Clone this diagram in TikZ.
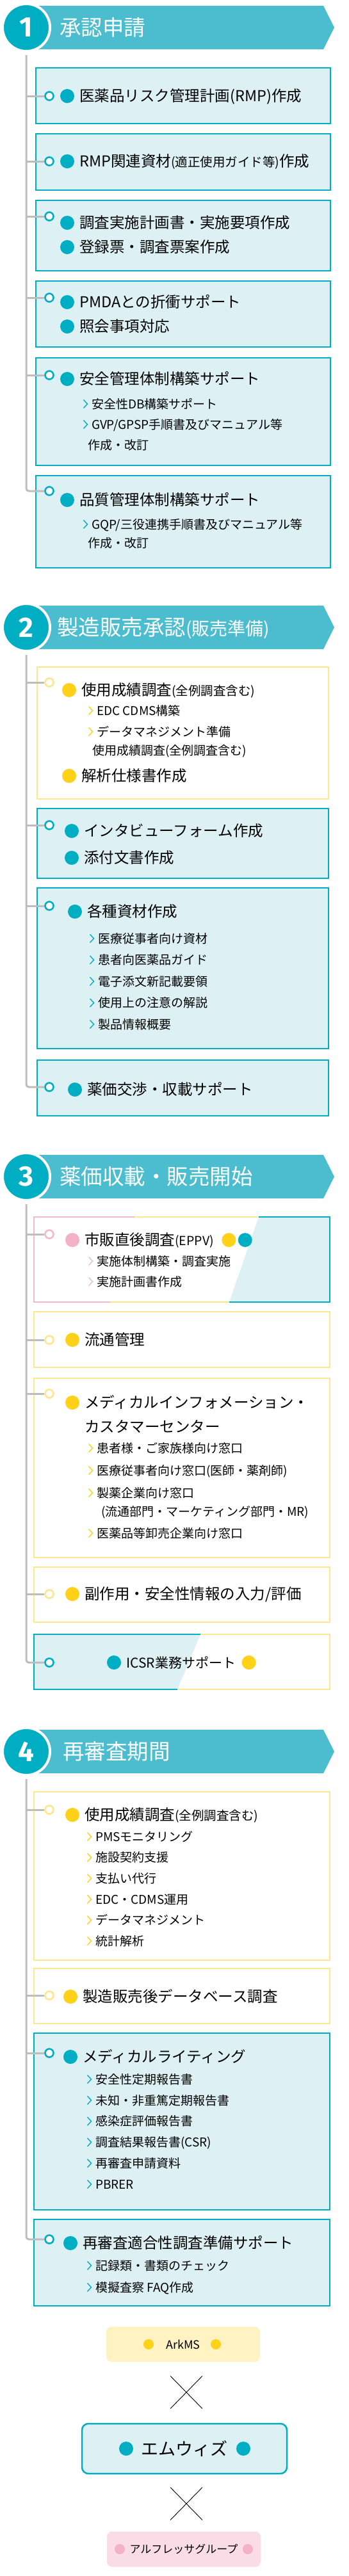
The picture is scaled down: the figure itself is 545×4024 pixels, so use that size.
\documentclass[tikz,border=0pt]{standalone}
\usepackage{fontspec}
\setmainfont{Noto Sans CJK JP}
\newfontfamily\numfont{Fira Sans}
\usetikzlibrary{positioning,shapes.misc}

\definecolor{tealc}{HTML}{00AEC3}
\definecolor{bannerc}{HTML}{4BBDCE}
\definecolor{tealbg}{HTML}{DDF0F4}
\definecolor{yline}{HTML}{FFE68F}
\definecolor{yelc}{HTML}{FFD219}
\definecolor{pinkline}{HTML}{F5B9CD}
\definecolor{pinkc}{HTML}{F2B1C6}
\definecolor{arkbg}{HTML}{FFF3C4}
\definecolor{alfbg}{HTML}{FADCE7}
\definecolor{trunkc}{HTML}{BDBDBD}

\newcommand\itemfont{\fontsize{23.5pt}{28pt}\selectfont}
\newcommand\subfont{\fontsize{19pt}{23pt}\selectfont}
\newcommand\parfont{\fontsize{19.5pt}{23pt}\selectfont}
\newcommand\titlefont{\fontsize{33.5pt}{40pt}\selectfont}
\newcommand\titlesmall{\fontsize{28pt}{34pt}\selectfont}

\begin{document}
\begin{tikzpicture}[x=1pt, y=-1pt,
    stepnum/.style={circle, fill=tealc, draw=white, line width=4pt, minimum size=74pt, inner sep=0pt,
      text=white, font={\numfont\bfseries\fontsize{44pt}{44pt}\selectfont}},
    steptitle/.style={anchor=west, inner sep=0pt, text=white, font=\titlefont, text height=27.8pt, text depth=2.3pt},
    trunk/.style={draw=trunkc, line width=3pt, rounded corners=4pt},
    rim/.style={line width=2.2pt},
    tbox/.style={draw=tealc, fill=tealbg, rim},
    ybox/.style={draw=yline, fill=white, rim},
    ring/.style={circle, draw=#1, fill=white, line width=2.6pt, minimum size=13pt, inner sep=0pt},
    bul/.style={circle, fill=#1, minimum size=22pt, inner sep=0pt},
    itemtext/.style={anchor=west, inner sep=0pt, font=\itemfont, text height=19.5pt, text depth=1.6pt},
    subtext/.style={anchor=west, inner sep=0pt, font=\subfont, text height=15.8pt, text depth=1.3pt},
    chev/.pic={\draw[line width=1.4pt] (-3.5,-6.5) -- (2.5,0) -- (-3.5,6.5);},
    orgbox/.style={rounded corners=8pt, inner sep=0pt, minimum width=240pt, minimum height=55pt},
    ]
    \path[use as bounding box, fill=white] (0,0) rectangle (545,4024);

    % step headers
    \foreach \n/\yc/\tx/\t in {1/43/93/{承認申請}, 2/980/89/{製造販売承認{\titlesmall(販売準備)}},
        3/1838/93/{薬価収載・販売開始}, 4/2736/98/{再審査期間}} {
      \fill[bannerc] (40,\yc-34) -- (505,\yc-34) -- (522,\yc) -- (505,\yc+34) -- (40,\yc+34) -- cycle;
      \node[stepnum] (h\n) at (41,\yc) {\n};
      \node[steptitle] (ttl\n) at (\tx,\yc) {\t};
    }

    % 1 承認申請
    \foreach \t/\b/\r [count=\i] in {106/193/150, 209/297/252, 313/423/338, 439/542/465, 559/727/586, 743/887/767} {
      \draw[tbox] (56,\t) rectangle (516,\b);
      \node[ring=tealc] (r1-\i) at (77,\r) {};
    }
    \draw[trunk] ([yshift=-4pt]h1.south) |- (r1-6);
    \foreach \i in {1,...,5} \draw[trunk] (h1 |- r1-\i) -- (r1-\i);
    \foreach \y/\t [count=\i] in {150/{医薬品リスク管理計画(RMP)作成}, 252/{RMP関連資材{\parfont(適正使用ガイド等)}作成},
        348/{調査実施計画書・実施要項作成}, 386/{登録票・調査票案作成}, 472/{PMDAとの折衝サポート},
        510/{照会事項対応}, 592/{安全管理体制構築サポート}, 781/{品質管理体制構築サポート}} {
      \node[bul=tealc] (u1-\i) at (105,\y) {};
      \node[itemtext, right=8pt of u1-\i] (t1-\i) {\t};
    }
    \foreach \y/\t [count=\i] in {631/{安全性DB構築サポート}, 663/{GVP/GPSP手順書及びマニュアル等}, 819/{GQP/三役連携手順書及びマニュアル等}} {
      \node[subtext] (s1-\i) at (143,\y) {\t};
      \pic[color=tealc] at ([xshift=-9pt]s1-\i.west) {chev};
    }
    \node[subtext] (s1-c1) at (137,695) {作成・改訂};
    \node[subtext] (s1-c2) at (137,848) {作成・改訂};

    % 2 製造販売承認
    \foreach \s/\c/\t/\b/\r [count=\i] in {ybox/yline/1042/1248/1066, tbox/tealc/1263/1372/1289,
        tbox/tealc/1387/1638/1415, tbox/tealc/1656/1743/1698} {
      \draw[\s] (58,\t) rectangle (513,\b);
      \node[ring=\c] (r2-\i) at (77,\r) {};
    }
    \draw[trunk] ([yshift=-4pt]h2.south) |- (r2-4);
    \foreach \i in {1,...,3} \draw[trunk] (h2 |- r2-\i) -- (r2-\i);
    \foreach \c/\x/\y/\t [count=\i] in {yelc/108/1078/{使用成績調査{\parfont(全例調査含む)}}, yelc/108/1212/{解析仕様書作成},
        tealc/112/1298/{インタビューフォーム作成}, tealc/112/1340/{添付文書作成},
        tealc/117/1424/{各種資材作成}, tealc/117/1702/{薬価交渉・収載サポート}} {
      \node[bul=\c] (u2-\i) at (\x,\y) {};
      \node[itemtext, right=8pt of u2-\i] (t2-\i) {\t};
    }
    \foreach \c/\x/\y/\t [count=\i] in {yelc/151/1110/{EDC CDMS構築}, yelc/151/1143/{データマネジメント準備},
        tealc/153/1466/{医療従事者向け資材}, tealc/153/1499.5/{患者向医薬品ガイド}, tealc/153/1533/{電子添文新記載要領},
        tealc/153/1566.5/{使用上の注意の解説}, tealc/153/1600/{製品情報概要}} {
      \node[subtext] (s2-\i) at (\x,\y) {\t};
      \pic[color=\c] at ([xshift=-9pt]s2-\i.west) {chev};
    }
    \node[subtext] (s2-c1) at (144,1172) {使用成績調査(全例調査含む)};

    % 3 薬価収載・販売開始
    \fill[tealbg] (404,1901) -- (515,1901) -- (515,2034) -- (358,2034) -- cycle;
    \draw[rim, pinkline] (210,1901) -- (53,1901) -- (53,2034) -- (172,2034);
    \draw[rim, yline] (210,1901) -- (404,1901) (172,2034) -- (358,2034);
    \draw[rim, tealc] (404,1901) -- (515,1901) -- (515,2034) -- (358,2034);
    \draw[ybox] (53,2049) rectangle (515,2136);
    \draw[ybox] (53,2153) rectangle (515,2433);
    \draw[ybox] (53,2448) rectangle (515,2534);
    \fill[tealbg] (53,2553) -- (313,2553) -- (277,2639) -- (53,2639) -- cycle;
    \draw[rim, tealc] (313,2553) -- (53,2553) -- (53,2639) -- (277,2639);
    \draw[rim, yline] (313,2553) -- (515,2553) -- (515,2639) -- (277,2639);
    \foreach \c/\r [count=\i] in {pinkline/1928, yline/2093, yline/2177, yline/2490, tealc/2597}
      \node[ring=\c] (r3-\i) at (77,\r) {};
    \draw[trunk] ([yshift=-4pt]h3.south) |- (r3-5);
    \foreach \i in {1,...,4} \draw[trunk] (h3 |- r3-\i) -- (r3-\i);
    \foreach \c/\y/\t [count=\i] in {pinkc/1937/{市販直後調査{\parfont(EPPV)}}, yelc/2093/{流通管理},
        yelc/2191/{メディカルインフォメーション・}, yelc/2490/{副作用・安全性情報の入力/評価}} {
      \node[bul=\c] (u3-\i) at (113,\y) {};
      \node[itemtext, right=8pt of u3-\i] (t3-\i) {\t};
    }
    \node[bul=yelc, right=12pt of t3-1] (u3-1y) {};
    \node[bul=tealc, right=3pt of u3-1y] (u3-1t) {};
    \node[itemtext] (t3-3b) at (132,2229) {カスタマーセンター};
    \node[bul=tealc] (u3-5) at (178,2597) {};
    \node[itemtext, font=\fontsize{21pt}{25pt}\selectfont, right=8pt of u3-5] (t3-5) {ICSR業務サポート};
    \node[bul=yelc, right=9pt of t3-5] (u3-5y) {};
    \foreach \c/\y/\t [count=\i] in {pinkline/1970/{実施体制構築・調査実施}, pinkline/2002/{実施計画書作成},
        yelc/2262/{患者様・ご家族様向け窓口}, yelc/2297/{医療従事者向け窓口(医師・薬剤師)},
        yelc/2332/{製薬企業向け窓口}, yelc/2395/{医薬品等卸売企業向け窓口}} {
      \node[subtext] (s3-\i) at (151,\y) {\t};
      \pic[color=\c] at ([xshift=-9pt]s3-\i.west) {chev};
    }
    \node[subtext] (s3-c1) at (158,2361) {(流通部門・マーケティング部門・MR)};

    % 4 再審査期間
    \foreach \s/\c/\t/\b/\r [count=\i] in {ybox/yline/2799/3062/2827, ybox/yline/3075/3161/3117,
        tbox/tealc/3176/3452/3207, tbox/tealc/3467/3602/3498} {
      \draw[\s] (53,\t) rectangle (515,\b);
      \node[ring=\c] (r4-\i) at (77,\r) {};
    }
    \draw[trunk] ([yshift=-4pt]h4.south) |- (r4-4);
    \foreach \i in {1,...,3} \draw[trunk] (h4 |- r4-\i) -- (r4-\i);
    \foreach \c/\x/\y/\t [count=\i] in {yelc/113/2835/{使用成績調査{\parfont(全例調査含む)}},
        yelc/110/3119/{製造販売後データベース調査}, tealc/110/3213/{メディカルライティング},
        tealc/110/3504/{再審査適合性調査準備サポート}} {
      \node[bul=\c] (u4-\i) at (\x,\y) {};
      \node[itemtext, right=8pt of u4-\i] (t4-\i) {\t};
    }
    \foreach \t [count=\i] in {PMSモニタリング, 施設契約支援, 支払い代行, EDC・CDMS運用, データマネジメント, 統計解析} {
      \node[subtext] (s4a-\i) at (149,2869+32.6*\i-32.6) {\t};
      \pic[color=yelc] at ([xshift=-9pt]s4a-\i.west) {chev};
    }
    \foreach \t [count=\i] in {安全性定期報告書, 未知・非重篤定期報告書, 感染症評価報告書, 調査結果報告書(CSR), 再審査申請資料, PBRER,
        記録類・書類のチェック, 模擬査察 FAQ作成} {
      \node[subtext] (s4b-\i) at (149,{\i<7 ? 3248+32.8*(\i-1) : 3539+34*(\i-7)}) {\t};
      \pic[color=tealc] at ([xshift=-9pt]s4b-\i.west) {chev};
    }

    % partners
    \node[orgbox, fill=arkbg, font=\fontsize{18pt}{20pt}\selectfont] (ark) at (286,3662) {ArkMS};
    \node[bul=yelc, minimum size=16pt] (ark-l) at ([xshift=-54pt]ark.center) {};
    \node[bul=yelc, minimum size=16pt] (ark-r) at ([xshift=51pt]ark.center) {};
    \node[cross out, draw, line width=0.9pt, minimum width=49pt, minimum height=50pt] (x1) at (291,3737) {};
    \node[orgbox, draw=tealc, line width=2.5pt, fill=tealbg, rounded corners=10pt, minimum width=320pt,
      minimum height=78pt, font=\fontsize{27pt}{30pt}\selectfont] (mw) at (288,3825) {エムウィズ};
    \node[bul=tealc] (mw-l) at ([xshift=-91pt]mw.center) {};
    \node[bul=tealc] (mw-r) at ([xshift=92pt]mw.center) {};
    \node[cross out, draw, line width=0.9pt, minimum width=49pt, minimum height=50pt] (x2) at (291,3911) {};
    \node[orgbox, fill=alfbg, font=\fontsize{17pt}{20pt}\selectfont] (alf) at (287,3982) {アルフレッサグループ};
    \node[bul=pinkc, minimum size=16pt] (alf-l) at ([xshift=-100pt]alf.center) {};
    \node[bul=pinkc, minimum size=16pt] (alf-r) at ([xshift=100pt]alf.center) {};
\end{tikzpicture}
\end{document}
